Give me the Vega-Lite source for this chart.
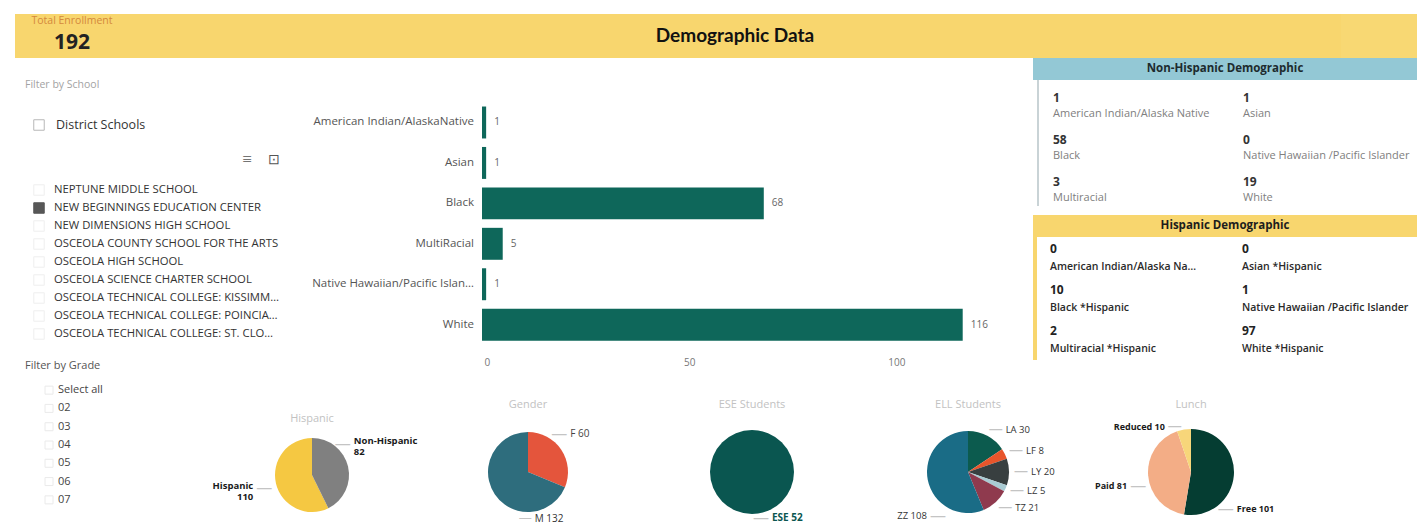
{
  "$schema": "https://vega.github.io/schema/vega-lite/v6.json",
  "padding": {"left": 15, "top": 14, "right": 0, "bottom": 0},
  "background": "#ffffff",
  "spacing": 0,
  "config": {"view": {"stroke": null}, "font": "Open Sans", "concat": {"spacing": 0}},
  "resolve": {"scale": {"color": "independent", "theta": "independent"}},
  "data": {"values": [{}]},
  "datasets": {
    "kpi": [{"total": 192}],
    "race": [
      {"cat": "American Indian/AlaskaNative", "n": 1},
      {"cat": "Asian", "n": 1},
      {"cat": "Black", "n": 68},
      {"cat": "MultiRacial", "n": 5},
      {"cat": "Native Hawaiian/Pacific Islander", "n": 1},
      {"cat": "White", "n": 116}
    ],
    "schools": [
      {"school": "NEPTUNE MIDDLE SCHOOL", "sel": false},
      {"school": "NEW BEGINNINGS EDUCATION CENTER", "sel": true},
      {"school": "NEW DIMENSIONS HIGH SCHOOL", "sel": false},
      {"school": "OSCEOLA COUNTY SCHOOL FOR THE ARTS", "sel": false},
      {"school": "OSCEOLA HIGH SCHOOL", "sel": false},
      {"school": "OSCEOLA SCIENCE CHARTER SCHOOL", "sel": false},
      {"school": "OSCEOLA TECHNICAL COLLEGE: KISSIMMEE", "sel": false},
      {"school": "OSCEOLA TECHNICAL COLLEGE: POINCIANA", "sel": false},
      {"school": "OSCEOLA TECHNICAL COLLEGE: ST. CLOUD", "sel": false}
    ],
    "grades": [{"g": "Select all"}, {"g": "02"}, {"g": "03"}, {"g": "04"}, {"g": "05"}, {"g": "06"}, {"g": "07"}],
    "nonhisp": [
      {"label": "American Indian/Alaska Native", "n": 1},
      {"label": "Asian", "n": 1},
      {"label": "Black", "n": 58},
      {"label": "Native Hawaiian /Pacific Islander", "n": 0},
      {"label": "Multiracial", "n": 3},
      {"label": "White", "n": 19}
    ],
    "hispdemo": [
      {"label": "American Indian/Alaska Native *Hispanic", "n": 0},
      {"label": "Asian *Hispanic", "n": 0},
      {"label": "Black *Hispanic", "n": 10},
      {"label": "Native Hawaiian /Pacific Islander", "n": 1},
      {"label": "Multiracial *Hispanic", "n": 2},
      {"label": "White *Hispanic", "n": 97}
    ],
    "hisp": [{"cat": "Hispanic", "n": 110, "lbl": "Hispanic\n110"}, {"cat": "Non-Hispanic", "n": 82, "lbl": "Non-Hispanic\n82"}],
    "gender": [{"cat": "F", "n": 60, "lbl": "F 60"}, {"cat": "M", "n": 132, "lbl": "M 132"}],
    "ese": [{"cat": "ESE", "n": 52, "lbl": "ESE 52"}],
    "ell": [
      {"cat": "LA", "n": 30, "lbl": "LA 30"},
      {"cat": "LF", "n": 8, "lbl": "LF 8"},
      {"cat": "LY", "n": 20, "lbl": "LY 20"},
      {"cat": "LZ", "n": 5, "lbl": "LZ 5"},
      {"cat": "TZ", "n": 21, "lbl": "TZ 21"},
      {"cat": "ZZ", "n": 108, "lbl": "ZZ 108"}
    ],
    "lunch": [{"cat": "Free", "n": 101, "lbl": "Free 101"}, {"cat": "Paid", "n": 81, "lbl": "Paid 81"}, {"cat": "Reduced", "n": 10, "lbl": "Reduced 10"}]
  },
  "vconcat": [
    {
      "spacing": 0,
      "hconcat": [
        {
          "spacing": 0,
          "vconcat": [
            {"width": 114, "height": 14, "view": {"fill": "#f8d66e"}, "mark": {"type": "text", "text": "Total Enrollment", "fontSize": 10.5, "color": "#d4883c"}},
            {"width": 114, "height": 30, "view": {"fill": "#f8d66e"}, "data": {"name": "kpi"}, "mark": {"type": "text", "fontSize": 21, "fontWeight": "bold", "color": "#222222"}, "encoding": {"text": {"field": "total", "type": "quantitative"}}}
          ]
        },
        {"width": 1212, "height": 44, "view": {"fill": "#f8d66e"}, "mark": {"type": "text", "text": "Demographic Data", "font": "Lato", "fontSize": 19, "fontWeight": "bold", "color": "#111111"}},
        {"width": 76, "height": 44, "view": {"fill": "#f8d873"}, "data": {"values": []}, "mark": "point"}
      ]
    },
    {
      "spacing": 0,
      "hconcat": [
        {
          "spacing": 0,
          "vconcat": [
            {
              "spacing": 0,
              "hconcat": [
                {"width": 8, "height": 54, "data": {"values": []}, "mark": "point"},
                {"width": 267, "height": 54, "mark": {"type": "text", "text": "Filter by School", "align": "left", "baseline": "middle", "dx": 2, "fontSize": 10.5, "color": "#a3a3a3"}, "encoding": {"x": {"datum": 0, "type": "quantitative", "scale": {"domain": [0, 1]}, "axis": null}}}
              ]
            },
            {
              "spacing": 0,
              "hconcat": [
                {"width": 16, "height": 26, "data": {"values": []}, "mark": "point"},
                {"width": 16, "height": 26, "mark": {"type": "point", "shape": "square", "size": 110, "filled": true, "fill": "#ffffff", "stroke": "#9a9a9a", "strokeWidth": 1}},
                {"width": 7, "height": 26, "data": {"values": []}, "mark": "point"},
                {"width": 236, "height": 26, "mark": {"type": "text", "text": "District Schools", "align": "left", "baseline": "middle", "dx": 2, "fontSize": 12.5, "color": "#333333"}, "encoding": {"x": {"datum": 0, "type": "quantitative", "scale": {"domain": [0, 1]}, "axis": null}}}
              ]
            },
            {
              "spacing": 0,
              "hconcat": [
                {"width": 225, "height": 43, "data": {"values": []}, "mark": "point"},
                {"width": 14, "height": 43, "mark": {"type": "text", "text": "≡", "fontSize": 17, "color": "#555555"}},
                {"width": 13, "height": 43, "data": {"values": []}, "mark": "point"},
                {"width": 14, "height": 43, "mark": {"type": "text", "text": "⊡", "fontSize": 14, "color": "#555555"}}
              ]
            },
            {
              "spacing": 0,
              "hconcat": [
                {"width": 16, "height": 162, "data": {"values": []}, "mark": "point"},
                {
                  "width": 16, "height": 162, "data": {"name": "schools"},
                  "mark": {"type": "point", "shape": "square", "size": 110, "filled": true, "strokeWidth": 1},
                  "encoding": {
                    "y": {"field": "school", "type": "nominal", "sort": null, "axis": null, "scale": {"type": "point", "padding": 0.5}},
                    "fill": {"condition": {"test": "datum.sel", "value": "#111111"}, "value": "#ffffff"},
                    "stroke": {"condition": {"test": "datum.sel", "value": "#111111"}, "value": "#e8e8e8"}
                  }
                },
                {"width": 5, "height": 162, "data": {"values": []}, "mark": "point"},
                {
                  "width": 238, "height": 162, "data": {"name": "schools"},
                  "mark": {"type": "text", "align": "left", "baseline": "middle", "dx": 2, "fontSize": 11.3, "color": "#333333", "limit": 226},
                  "encoding": {
                    "y": {"field": "school", "type": "nominal", "sort": null, "axis": null, "scale": {"type": "point", "padding": 0.5}},
                    "x": {"datum": 0, "type": "quantitative", "scale": {"domain": [0, 1]}, "axis": null},
                    "text": {"field": "school", "type": "nominal"}
                  }
                }
              ]
            },
            {"width": 275, "height": 15, "data": {"values": []}, "mark": "point"},
            {
              "spacing": 0,
              "hconcat": [
                {"width": 8, "height": 15, "data": {"values": []}, "mark": "point"},
                {"width": 267, "height": 15, "mark": {"type": "text", "text": "Filter by Grade", "align": "left", "baseline": "middle", "dx": 2, "fontSize": 11, "color": "#555555"}, "encoding": {"x": {"datum": 0, "type": "quantitative", "scale": {"domain": [0, 1]}, "axis": null}}}
              ]
            }
          ]
        },
        {
          "width": 186, "height": 315, "data": {"name": "race"},
          "mark": {"type": "text", "align": "right", "baseline": "middle", "dx": -2, "fontSize": 11.5, "color": "#555555", "limit": 164},
          "encoding": {
            "y": {"field": "cat", "type": "nominal", "sort": null, "axis": null, "scale": {"type": "band", "paddingInner": 0.21, "paddingOuter": 1.2497, "align": 0.6}},
            "x": {"value": "width"},
            "text": {"field": "cat", "type": "nominal"}
          }
        },
        {"width": 6, "height": 315, "data": {"values": []}, "mark": "point"},
        {
          "width": 518, "height": 315, "data": {"name": "race"},
          "encoding": {
            "y": {"field": "cat", "type": "nominal", "sort": null, "axis": null, "scale": {"type": "band", "paddingInner": 0.21, "paddingOuter": 1.2497, "align": 0.6}},
            "x": {
              "field": "n", "type": "quantitative", "scale": {"domain": [0, 125], "nice": false},
              "axis": {"values": [0, 50, 100], "domain": false, "ticks": false, "tickSize": 0, "grid": false, "title": null, "labelPadding": -16, "labelFlush": true, "labelFlushOffset": -2, "labelColor": "#777777", "labelFontSize": 10}
            }
          },
          "layer": [
            {"mark": {"type": "bar", "color": "#0e675a"}},
            {"mark": {"type": "text", "align": "left", "baseline": "middle", "dx": 8, "fontSize": 10, "color": "#666666"}, "encoding": {"text": {"field": "n", "type": "quantitative"}}}
          ]
        },
        {"width": 33, "height": 315, "data": {"values": []}, "mark": "point"},
        {
          "spacing": 0,
          "vconcat": [
            {"width": 384, "height": 22, "view": {"fill": "#93c8d5"}, "mark": {"type": "text", "text": "Non-Hispanic Demographic", "fontSize": 11.5, "fontWeight": "bold", "color": "#1d2b2e"}},
            {
              "spacing": 0,
              "hconcat": [
                {"width": 4, "height": 126, "data": {"values": []}, "mark": "point"},
                {"width": 2, "height": 126, "view": {"fill": "#c9d3d6"}, "data": {"values": []}, "mark": "point"},
                {"width": 12, "height": 126, "data": {"values": []}, "mark": "point"},
                {
                  "width": 190, "height": 126, "data": {"name": "nonhisp"},
                  "transform": [{"filter": {"field": "label", "oneOf": ["American Indian/Alaska Native", "Black", "Multiracial"]}}],
                  "encoding": {"x": {"datum": 0, "type": "quantitative", "scale": {"domain": [0, 1]}, "axis": null}},
                  "layer": [
                    {"mark": {"type": "text", "align": "left", "baseline": "middle", "dx": 2, "fontSize": 12, "fontWeight": "bold", "color": "#333333"},
                     "encoding": {"y": {"field": "label", "type": "nominal", "sort": null, "axis": null, "bandPosition": 0.42, "scale": {"type": "band", "paddingInner": 0, "paddingOuter": 0}}, "text": {"field": "n", "type": "quantitative"}}},
                    {"mark": {"type": "text", "align": "left", "baseline": "middle", "dx": 2, "fontSize": 11, "color": "#808080", "limit": 180},
                     "encoding": {"y": {"field": "label", "type": "nominal", "sort": null, "axis": null, "bandPosition": 0.82, "scale": {"type": "band", "paddingInner": 0, "paddingOuter": 0}}, "text": {"field": "label", "type": "nominal"}}}
                  ]
                },
                {
                  "width": 176, "height": 126, "data": {"name": "nonhisp"},
                  "transform": [{"filter": {"field": "label", "oneOf": ["Asian", "Native Hawaiian /Pacific Islander", "White"]}}],
                  "encoding": {"x": {"datum": 0, "type": "quantitative", "scale": {"domain": [0, 1]}, "axis": null}},
                  "layer": [
                    {"mark": {"type": "text", "align": "left", "baseline": "middle", "dx": 2, "fontSize": 12, "fontWeight": "bold", "color": "#333333"},
                     "encoding": {"y": {"field": "label", "type": "nominal", "sort": null, "axis": null, "bandPosition": 0.42, "scale": {"type": "band", "paddingInner": 0, "paddingOuter": 0}}, "text": {"field": "n", "type": "quantitative"}}},
                    {"mark": {"type": "text", "align": "left", "baseline": "middle", "dx": 2, "fontSize": 11, "color": "#808080", "limit": 172},
                     "encoding": {"y": {"field": "label", "type": "nominal", "sort": null, "axis": null, "bandPosition": 0.82, "scale": {"type": "band", "paddingInner": 0, "paddingOuter": 0}}, "text": {"field": "label", "type": "nominal"}}}
                  ]
                }
              ]
            },
            {"width": 384, "height": 9, "data": {"values": []}, "mark": "point"},
            {"width": 384, "height": 22, "view": {"fill": "#f8d66e"}, "mark": {"type": "text", "text": "Hispanic Demographic", "fontSize": 11.5, "fontWeight": "bold", "color": "#1d1d1d"}},
            {
              "spacing": 0,
              "hconcat": [
                {"width": 4, "height": 123, "view": {"fill": "#f8d66e"}, "data": {"values": []}, "mark": "point"},
                {"width": 11, "height": 123, "data": {"values": []}, "mark": "point"},
                {
                  "width": 192, "height": 123, "data": {"name": "hispdemo"},
                  "transform": [{"filter": {"field": "label", "oneOf": ["American Indian/Alaska Native *Hispanic", "Black *Hispanic", "Multiracial *Hispanic"]}}],
                  "encoding": {"x": {"datum": 0, "type": "quantitative", "scale": {"domain": [0, 1]}, "axis": null}},
                  "layer": [
                    {"mark": {"type": "text", "align": "left", "baseline": "middle", "dx": 2, "fontSize": 12, "fontWeight": "bold", "color": "#222222"},
                     "encoding": {"y": {"field": "label", "type": "nominal", "sort": null, "axis": null, "bandPosition": 0.3, "scale": {"type": "band", "paddingInner": 0, "paddingOuter": 0}}, "text": {"field": "n", "type": "quantitative"}}},
                    {"mark": {"type": "text", "align": "left", "baseline": "middle", "dx": 2, "fontSize": 10.5, "fontWeight": 600, "color": "#2a2a2a", "limit": 150},
                     "encoding": {"y": {"field": "label", "type": "nominal", "sort": null, "axis": null, "bandPosition": 0.72, "scale": {"type": "band", "paddingInner": 0, "paddingOuter": 0}}, "text": {"field": "label", "type": "nominal"}}}
                  ]
                },
                {
                  "width": 177, "height": 123, "data": {"name": "hispdemo"},
                  "transform": [{"filter": {"field": "label", "oneOf": ["Asian *Hispanic", "Native Hawaiian /Pacific Islander", "White *Hispanic"]}}],
                  "encoding": {"x": {"datum": 0, "type": "quantitative", "scale": {"domain": [0, 1]}, "axis": null}},
                  "layer": [
                    {"mark": {"type": "text", "align": "left", "baseline": "middle", "dx": 2, "fontSize": 12, "fontWeight": "bold", "color": "#222222"},
                     "encoding": {"y": {"field": "label", "type": "nominal", "sort": null, "axis": null, "bandPosition": 0.3, "scale": {"type": "band", "paddingInner": 0, "paddingOuter": 0}}, "text": {"field": "n", "type": "quantitative"}}},
                    {"mark": {"type": "text", "align": "left", "baseline": "middle", "dx": 2, "fontSize": 10.5, "fontWeight": 600, "color": "#2a2a2a", "limit": 173},
                     "encoding": {"y": {"field": "label", "type": "nominal", "sort": null, "axis": null, "bandPosition": 0.72, "scale": {"type": "band", "paddingInner": 0, "paddingOuter": 0}}, "text": {"field": "label", "type": "nominal"}}}
                  ]
                }
              ]
            },
            {"width": 384, "height": 13, "data": {"values": []}, "mark": "point"}
          ]
        }
      ]
    },
    {
      "spacing": 0,
      "resolve": {"scale": {"color": "independent", "theta": "independent"}},
      "hconcat": [
        {
          "spacing": 0,
          "vconcat": [
            {"width": 183, "height": 8, "data": {"values": []}, "mark": "point"},
            {
              "spacing": 0,
              "hconcat": [
                {"width": 27, "height": 128, "data": {"values": []}, "mark": "point"},
                {
                  "width": 14, "height": 128, "data": {"name": "grades"},
                  "mark": {"type": "point", "shape": "square", "size": 64, "filled": true, "fill": "#ffffff", "stroke": "#e2e2e2", "strokeWidth": 1},
                  "encoding": {"y": {"field": "g", "type": "nominal", "sort": null, "axis": null, "scale": {"type": "point", "padding": 0.5}}}
                },
                {
                  "width": 142, "height": 128, "data": {"name": "grades"},
                  "mark": {"type": "text", "align": "left", "baseline": "middle", "dx": 2, "fontSize": 11, "color": "#444444"},
                  "encoding": {
                    "y": {"field": "g", "type": "nominal", "sort": null, "axis": null, "scale": {"type": "point", "padding": 0.5}},
                    "x": {"datum": 0, "type": "quantitative", "scale": {"domain": [0, 1]}, "axis": null},
                    "text": {"field": "g", "type": "nominal"}
                  }
                }
              ]
            }
          ]
        },
        {
          "spacing": 0,
          "vconcat": [
            {"width": 228, "height": 38, "data": {"values": []}, "mark": "point"},
            {"width": 228, "height": 16, "mark": {"type": "text", "text": "Hispanic", "fontSize": 11, "color": "#c2c2c2"}},
            {
              "width": 228, "height": 96, "data": {"name": "hisp"},
              "encoding": {"theta": {"field": "n", "type": "quantitative", "stack": true}, "order": {"field": "cat", "type": "nominal", "sort": "descending"}, "detail": {"field": "cat", "type": "nominal"}},
              "layer": [
                {"mark": {"type": "arc", "outerRadius": 37}, "encoding": {"color": {"field": "cat", "type": "nominal", "scale": {"domain": ["Hispanic", "Non-Hispanic"], "range": ["#f5c842", "#808080"]}, "legend": null}}},
                {"mark": {"type": "text", "radius": 45, "align": "left", "baseline": "middle", "lineBreak": "\n", "dy": -24, "dx": -2, "fontSize": 9.5, "fontWeight": "bold", "color": "#1a1a1a"},
                 "encoding": {"text": {"condition": {"test": "datum.cat === 'Non-Hispanic'", "field": "lbl", "type": "nominal"}, "value": ""}}},
                {"mark": {"type": "text", "radius": 45, "align": "right", "baseline": "middle", "dy": -21, "dx": -5, "fontSize": 16, "color": "#c4c4c4"},
                 "encoding": {"text": {"condition": {"test": "datum.cat === 'Non-Hispanic'", "value": "—"}, "value": ""}}},
                {"mark": {"type": "text", "radius": 48, "align": "right", "baseline": "middle", "lineBreak": "\n", "dx": -12, "fontSize": 9.5, "fontWeight": "bold", "color": "#1a1a1a"},
                 "encoding": {"text": {"condition": {"test": "datum.cat === 'Hispanic'", "field": "lbl", "type": "nominal"}, "value": ""}}},
                {"mark": {"type": "text", "radius": 48, "align": "left", "baseline": "middle", "dx": -9, "dy": 2, "fontSize": 16, "color": "#c4c4c4"},
                 "encoding": {"text": {"condition": {"test": "datum.cat === 'Hispanic'", "value": "—"}, "value": ""}}}
              ]
            }
          ]
        },
        {
          "spacing": 0,
          "vconcat": [
            {"width": 204, "height": 24, "data": {"values": []}, "mark": "point"},
            {"width": 204, "height": 16, "mark": {"type": "text", "text": "Gender", "fontSize": 11, "color": "#c2c2c2"}},
            {"width": 204, "height": 5, "data": {"values": []}, "mark": "point"},
            {
              "width": 204, "height": 108, "data": {"name": "gender"},
              "encoding": {"theta": {"field": "n", "type": "quantitative", "stack": true}, "order": {"field": "cat", "type": "nominal", "sort": "ascending"}, "detail": {"field": "cat", "type": "nominal"}},
              "layer": [
                {"mark": {"type": "arc", "outerRadius": 40}, "encoding": {"color": {"field": "cat", "type": "nominal", "scale": {"domain": ["F", "M"], "range": ["#e4553c", "#2e6d7d"]}, "legend": null}}},
                {"mark": {"type": "text", "radius": 46, "align": "left", "baseline": "middle", "dx": 4, "dy": -12, "fontSize": 10, "color": "#444444"},
                 "encoding": {"text": {"condition": {"test": "datum.cat === 'F'", "field": "lbl", "type": "nominal"}, "value": ""}}},
                {"mark": {"type": "text", "radius": 46, "align": "right", "baseline": "middle", "dx": 1, "dy": -12, "fontSize": 16, "color": "#c4c4c4"},
                 "encoding": {"text": {"condition": {"test": "datum.cat === 'F'", "value": "—"}, "value": ""}}},
                {"mark": {"type": "text", "radius": 46, "align": "left", "baseline": "middle", "dx": 45, "dy": 21, "fontSize": 10, "color": "#333333"},
                 "encoding": {"text": {"condition": {"test": "datum.cat === 'M'", "field": "lbl", "type": "nominal"}, "value": ""}}},
                {"mark": {"type": "text", "radius": 46, "align": "right", "baseline": "middle", "dx": 42, "dy": 20, "fontSize": 13, "color": "#c4c4c4"},
                 "encoding": {"text": {"condition": {"test": "datum.cat === 'M'", "value": "—"}, "value": ""}}}
              ]
            }
          ]
        },
        {
          "spacing": 0,
          "vconcat": [
            {"width": 244, "height": 24, "data": {"values": []}, "mark": "point"},
            {"width": 244, "height": 16, "mark": {"type": "text", "text": "ESE Students", "fontSize": 11, "color": "#c2c2c2"}},
            {"width": 244, "height": 5, "data": {"values": []}, "mark": "point"},
            {
              "width": 244, "height": 108, "data": {"name": "ese"},
              "encoding": {"theta": {"field": "n", "type": "quantitative", "stack": true}, "order": {"field": "cat", "type": "nominal", "sort": "ascending"}, "detail": {"field": "cat", "type": "nominal"}},
              "layer": [
                {"mark": {"type": "arc", "outerRadius": 42}, "encoding": {"color": {"field": "cat", "type": "nominal", "scale": {"domain": ["ESE"], "range": ["#0a5650"]}, "legend": null}}},
                {"mark": {"type": "text", "radius": 46, "align": "left", "baseline": "middle", "dx": 20, "fontSize": 10, "fontWeight": "bold", "color": "#0a5650"},
                 "encoding": {"text": {"field": "lbl", "type": "nominal"}}},
                {"mark": {"type": "text", "radius": 46, "align": "right", "baseline": "middle", "dx": 17, "fontSize": 16, "color": "#c4c4c4", "text": "—"}}
              ]
            }
          ]
        },
        {
          "spacing": 0,
          "vconcat": [
            {"width": 188, "height": 24, "data": {"values": []}, "mark": "point"},
            {"width": 188, "height": 16, "mark": {"type": "text", "text": "ELL Students", "fontSize": 11, "color": "#c2c2c2"}},
            {"width": 188, "height": 5, "data": {"values": []}, "mark": "point"},
            {
              "width": 188, "height": 108, "data": {"name": "ell"},
              "encoding": {"theta": {"field": "n", "type": "quantitative", "stack": true}, "order": {"field": "cat", "type": "nominal", "sort": "ascending"}, "detail": {"field": "cat", "type": "nominal"}},
              "layer": [
                {"mark": {"type": "arc", "outerRadius": 41}, "encoding": {"color": {"field": "cat", "type": "nominal", "scale": {"domain": ["LA", "LF", "LY", "LZ", "TZ", "ZZ"], "range": ["#0c5b4e", "#e8552b", "#383f40", "#a9cbd3", "#8f3a4e", "#1a6c86"]}, "legend": null}}},
                {"mark": {"type": "text", "radius": 48, "align": "left", "baseline": "middle", "dx": 15, "fontSize": 9.5, "color": "#333333"},
                 "encoding": {"text": {"condition": {"test": "datum.cat !== 'ZZ'", "field": "lbl", "type": "nominal"}, "value": ""}}},
                {"mark": {"type": "text", "radius": 48, "align": "right", "baseline": "middle", "dx": 12, "fontSize": 14, "color": "#c4c4c4"},
                 "encoding": {"text": {"condition": {"test": "datum.cat !== 'ZZ'", "value": "—"}, "value": ""}}},
                {"mark": {"type": "text", "radius": 48, "align": "right", "baseline": "middle", "dx": 6, "dy": 35, "fontSize": 9.5, "color": "#333333"},
                 "encoding": {"text": {"condition": {"test": "datum.cat === 'ZZ'", "field": "lbl", "type": "nominal"}, "value": ""}}},
                {"mark": {"type": "text", "radius": 48, "align": "left", "baseline": "middle", "dx": 9, "dy": 35, "fontSize": 16, "color": "#c4c4c4"},
                 "encoding": {"text": {"condition": {"test": "datum.cat === 'ZZ'", "value": "—"}, "value": ""}}}
              ]
            }
          ]
        },
        {
          "spacing": 0,
          "vconcat": [
            {"width": 258, "height": 24, "data": {"values": []}, "mark": "point"},
            {"width": 258, "height": 16, "mark": {"type": "text", "text": "Lunch", "fontSize": 11, "color": "#c2c2c2"}},
            {"width": 258, "height": 5, "data": {"values": []}, "mark": "point"},
            {
              "width": 258, "height": 108, "data": {"name": "lunch"},
              "encoding": {"theta": {"field": "n", "type": "quantitative", "stack": true}, "order": {"field": "cat", "type": "nominal", "sort": "ascending"}, "detail": {"field": "cat", "type": "nominal"}},
              "layer": [
                {"mark": {"type": "arc", "outerRadius": 43}, "encoding": {"color": {"field": "cat", "type": "nominal", "scale": {"domain": ["Free", "Paid", "Reduced"], "range": ["#053d32", "#f3ad86", "#f7d67a"]}, "legend": null}}},
                {"mark": {"type": "text", "radius": 50, "align": "left", "baseline": "middle", "dx": -4, "dy": 33, "fontSize": 9, "fontWeight": "bold", "color": "#1a1a1a"},
                 "encoding": {"text": {"condition": {"test": "datum.cat === 'Free'", "field": "lbl", "type": "nominal"}, "value": ""}}},
                {"mark": {"type": "text", "radius": 50, "align": "right", "baseline": "middle", "dx": -7, "dy": 33, "fontSize": 16, "color": "#c4c4c4"},
                 "encoding": {"text": {"condition": {"test": "datum.cat === 'Free'", "value": "—"}, "value": ""}}},
                {"mark": {"type": "text", "radius": 50, "align": "right", "baseline": "middle", "dx": -14, "dy": 10, "fontSize": 9, "fontWeight": "bold", "color": "#1a1a1a"},
                 "encoding": {"text": {"condition": {"test": "datum.cat === 'Paid'", "field": "lbl", "type": "nominal"}, "value": ""}}},
                {"mark": {"type": "text", "radius": 50, "align": "left", "baseline": "middle", "dx": -11, "dy": 10, "fontSize": 16, "color": "#c4c4c4"},
                 "encoding": {"text": {"condition": {"test": "datum.cat === 'Paid'", "value": "—"}, "value": ""}}},
                {"mark": {"type": "text", "radius": 50, "align": "right", "baseline": "middle", "dx": -18, "dy": 4, "fontSize": 9, "fontWeight": "bold", "color": "#1a1a1a"},
                 "encoding": {"text": {"condition": {"test": "datum.cat === 'Reduced'", "field": "lbl", "type": "nominal"}, "value": ""}}},
                {"mark": {"type": "text", "radius": 50, "align": "left", "baseline": "middle", "dx": -15, "dy": 4, "fontSize": 14, "color": "#c4c4c4"},
                 "encoding": {"text": {"condition": {"test": "datum.cat === 'Reduced'", "value": "—"}, "value": ""}}}
              ]
            }
          ]
        }
      ]
    }
  ]
}
